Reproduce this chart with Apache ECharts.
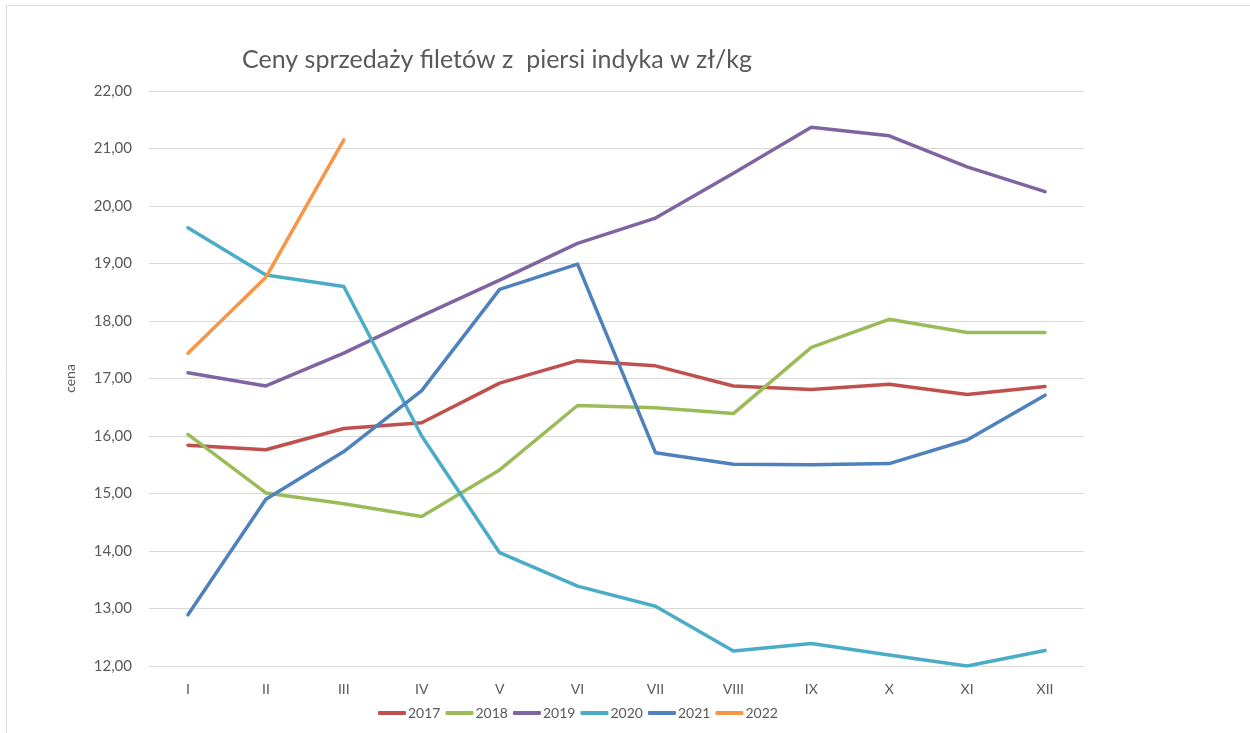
<!DOCTYPE html>
<html>
<head>
<meta charset="utf-8">
<script src="https://cdn.jsdelivr.net/npm/echarts@6/dist/echarts.min.js"></script>
<style>
html,body{margin:0;padding:0;background:#fff;}
#chart{width:1250px;height:733px;}
</style>
</head>
<body>
<div id="chart"></div>
<script>
const months = ['I','II','III','IV','V','VI','VII','VIII','IX','X','XI','XII'];
const y2017 = [15.84,15.76,16.13,16.23,16.92,17.31,17.22,16.87,16.81,16.90,16.72,16.86];
const y2018 = [16.03,15.01,14.82,14.60,15.41,16.53,16.49,16.39,17.54,18.03,17.80,17.80];
const y2019 = [17.10,16.87,17.44,18.09,18.71,19.35,19.79,20.57,21.37,21.22,20.68,20.25];
const y2020 = [19.62,18.80,18.60,16.00,13.97,13.39,13.04,12.26,12.39,12.19,12.00,12.27];
const y2021 = [12.89,14.90,15.73,16.79,18.55,18.99,15.71,15.51,15.50,15.52,15.93,16.71];
const y2022 = [17.44,18.76,21.15];
const seriesNames = ['2017','2018','2019','2020','2021','2022'];
const seriesData = [y2017,y2018,y2019,y2020,y2021,y2022];
const colors = ['#C0504D','#9BBB59','#8064A2','#4BACC6','#4F81BD','#F79646'];
const yMin = 12, yMax = 22, yStep = 1;

const FONT = 'Lato, "Noto Sans", sans-serif';
const chart = echarts.init(document.getElementById('chart'));
chart.setOption({
  animation: false,
  color: colors,
  title: {
    text: 'Ceny sprzedaży filetów z  piersi indyka w zł/kg',
    left: 237, top: 42,
    textStyle: {color:'#595959', fontSize: 25, fontWeight: 'normal', fontFamily: FONT}
  },
  legend: {
    left: 378, top: 706, padding: 0,
    itemWidth: 28, itemHeight: 4, itemGap: 5,
    icon: 'roundRect',
    textStyle: {color:'#595959', fontSize: 14, fontFamily: FONT, padding:[0,0,0,-3]},
    data: seriesNames
  },
  grid: {left: 149, right: 166, top: 91, bottom: 67, containLabel: false},
  xAxis: {
    type: 'category', data: months, boundaryGap: true,
    axisLine: {lineStyle: {color:'#d9d9d9', width: 1}},
    axisTick: {show: false},
    axisLabel: {color:'#595959', fontSize: 14, fontFamily: FONT, margin: 16}
  },
  yAxis: {
    type: 'value', min: yMin, max: yMax, interval: yStep,
    name: 'cena', nameLocation: 'middle', nameGap: 72, nameRotate: 90,
    nameTextStyle: {color:'#595959', fontSize: 14, fontFamily: FONT},
    axisLine: {show: false}, axisTick: {show: false},
    splitLine: {lineStyle: {color:'#d9d9d9', width: 1}},
    axisLabel: {color:'#595959', fontSize: 15, fontFamily: FONT, margin: 17,
      formatter: v => v.toFixed(2).replace('.', ',')}
  },
  graphic: [{
    type: 'rect', silent: true, z: -1,
    shape: {x: 6.5, y: 5.5, width: 1400, height: 900},
    style: {fill: 'none', stroke: '#d9d9d9', lineWidth: 1}
  }],
  series: seriesNames.map((n, i) => ({
    name: n, type: 'line', data: seriesData[i],
    symbol: 'none', smooth: false,
    lineStyle: {width: 3.5, color: colors[i], cap: 'round', join: 'round'},
    itemStyle: {color: colors[i]}
  }))
});
</script>
</body>
</html>
